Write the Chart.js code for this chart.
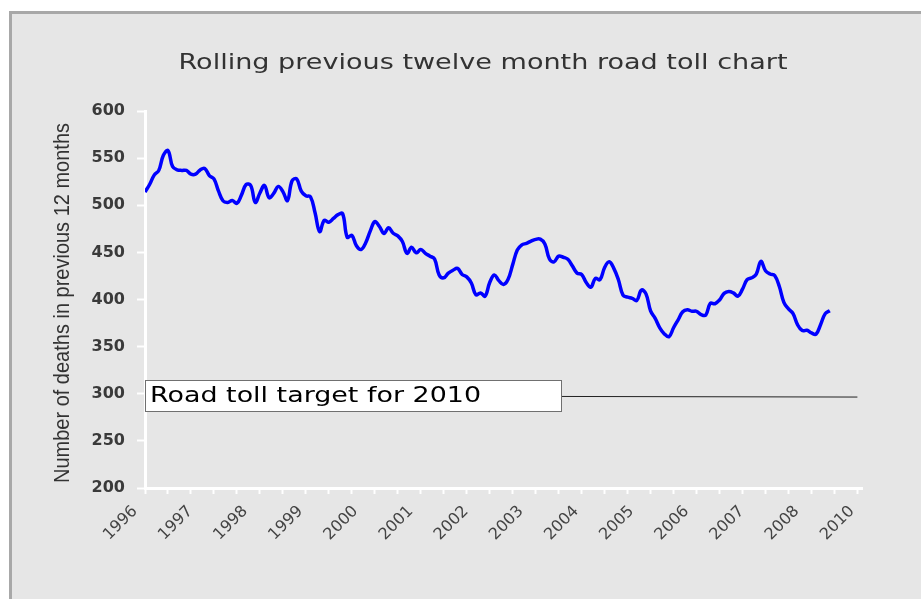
<!DOCTYPE html>
<html>
<head>
<meta charset="utf-8">
<script src="https://cdn.jsdelivr.net/npm/chart.js@4/dist/chart.umd.min.js"></script>
<style>
  html, body { margin: 0; padding: 0; background: #fff; overflow: hidden; }
  #wrap { width: 921px; height: 599px; }
</style>
</head>
<body>
<div id="wrap"><canvas id="chart" width="921" height="599"></canvas></div>
<script>
// rolling 12 month road toll, one value per month from Jan 1996
const deaths = [
  514, 522, 532, 537, 553, 558, 541, 537.5, 537, 537, 533, 533,
  537.5, 539, 531.5, 528, 515, 504.5, 503, 505, 502, 511, 522, 521,
  503, 513, 521, 508, 512.5, 520, 514.5, 505, 526, 528, 515, 510,
  509, 492, 472, 484, 482, 486, 490, 491, 466, 468, 457, 453,
  460, 472.5, 482.6, 477.5, 470, 476, 470.3, 467.5, 461.5, 449, 455.4, 449.5,
  453, 449, 446, 443, 426, 423, 428, 431, 433, 426.5, 424, 417.5,
  405, 407, 403.5, 418, 426, 420, 416, 421.5, 437, 452.5, 458, 459.6,
  462, 463.8, 464, 459, 443, 440, 446, 444.8, 442.6, 435.5, 428, 426.5,
  418, 413, 422.5, 421, 434, 440, 433, 421, 404.7, 402.5, 401.2, 399,
  410, 406, 388, 380, 370, 363.5, 360.5, 370, 378.5, 387, 389, 387.5,
  387.5, 384, 383.5, 396, 395.5, 399.5, 406.5, 408.5, 407, 403.5, 411, 421,
  423, 427, 440.5, 430.5, 427, 425.5, 414, 397, 390, 385, 373, 367,
  367.3, 364.5, 363.3, 373.5, 385, 388
];
const months = deaths.map((d, i) => i);

const yearLabels = ['1996', '1997', '1998', '1999', '2000', '2001', '2002',
  '2003', '2004', '2005', '2006', '2007', '2008', '2010'];

const targetMonths = [0, 155];
const targetDeaths = [298, 296.5];
const targetText = 'Road toll target for 2010';

const titleText = 'Rolling previous twelve month road toll chart';
const yTitleText = 'Number of deaths in previous 12 months';

const FONT = "'DejaVu Sans', Verdana, sans-serif";

// draw text squeezed/stretched to a given width
function fitText(ctx, text, x, y, width, align) {
  const w = ctx.measureText(text).width;
  const sx = width / w;
  ctx.save();
  ctx.translate(x, y);
  ctx.scale(sx, 1);
  ctx.textAlign = align;
  ctx.fillText(text, 0, 0);
  ctx.restore();
}

const frame = {
  id: 'frame',
  beforeDraw(chart) {
    const ctx = chart.ctx;
    ctx.save();
    ctx.fillStyle = '#ffffff';
    ctx.fillRect(0, 0, chart.width, chart.height);
    ctx.fillStyle = '#a8a8a8';
    ctx.fillRect(9, 11, chart.width - 9, chart.height - 11);
    ctx.fillStyle = '#e6e6e6';
    ctx.fillRect(12, 14, chart.width - 12, chart.height - 14);
    ctx.restore();
  },
  afterDraw(chart) {
    const ctx = chart.ctx;
    ctx.save();
    ctx.fillStyle = '#333';
    ctx.textBaseline = 'middle';
    ctx.font = '22px ' + FONT;
    fitText(ctx, titleText, 483, 63, 609, 'center');
    // y axis title
    ctx.translate(63, 303);
    ctx.rotate(-Math.PI / 2);
    ctx.font = "22px 'Liberation Sans', Arial, sans-serif";
    fitText(ctx, yTitleText, 0, 0, 360, 'center');
    ctx.restore();
  },
  afterDatasetsDraw(chart) {
    const ctx = chart.ctx;
    ctx.save();
    ctx.fillStyle = '#ffffff';
    ctx.strokeStyle = '#707070';
    ctx.lineWidth = 1;
    ctx.fillRect(145, 380, 416, 31);
    ctx.strokeRect(145.5, 380.5, 416, 31);
    ctx.fillStyle = '#000';
    ctx.font = '22px ' + FONT;
    ctx.textBaseline = 'middle';
    fitText(ctx, targetText, 150, 396, 331, 'left');
    ctx.restore();
  }
};

new Chart(document.getElementById('chart'), {
  type: 'line',
  data: {
    datasets: [
      {
        label: 'Target',
        data: targetMonths.map((m, i) => ({ x: m, y: targetDeaths[i] })),
        borderColor: '#222',
        borderWidth: 1,
        pointRadius: 0,
        tension: 0
      },
      {
        label: 'Road toll',
        data: months.map((m, i) => ({ x: m, y: deaths[i] })),
        borderColor: '#0000ff',
        borderWidth: 3.5,
        pointRadius: 0,
        tension: 0.4
      }
    ]
  },
  options: {
    responsive: false,
    animation: false,
    layout: { padding: { top: 111, right: 59, left: 0, bottom: 0 } },
    plugins: { legend: { display: false }, tooltip: { enabled: false } },
    scales: {
      x: {
        type: 'linear',
        min: 0,
        max: 156,
        afterBuildTicks(axis) {
          const vals = [];
          for (let v = 0; v <= 156; v++) {
            if (v % 5 === 0 || v % 12 === 0) vals.push({ value: v });
          }
          axis.ticks = vals;
        },
        afterFit(axis) { axis.height = 111; },
        border: { color: '#ffffff', width: 3 },
        grid: {
          drawOnChartArea: false,
          tickLength: 6,
          tickWidth: 2,
          tickColor: (c) => (c.tick && c.tick.value % 5 === 0) ? '#ffffff' : 'rgba(0,0,0,0)'
        },
        ticks: {
          autoSkip: false,
          minRotation: 45,
          maxRotation: 45,
          padding: 8,
          labelOffset: -10,
          color: '#444',
          font: { family: FONT, size: 16 },
          callback: (v) => v % 12 === 0 ? yearLabels[v / 12] : ''
        }
      },
      y: {
        min: 200,
        max: 600,
        afterFit(axis) { axis.width = 145; },
        border: { color: '#ffffff', width: 3 },
        grid: {
          drawOnChartArea: false,
          tickLength: 8,
          tickWidth: 2,
          tickColor: '#ffffff'
        },
        ticks: {
          stepSize: 50,
          padding: 12,
          color: '#3a3a3a',
          font: { family: FONT, size: 16, weight: 'bold' }
        }
      }
    }
  },
  plugins: [frame]
});
</script>
</body>
</html>
